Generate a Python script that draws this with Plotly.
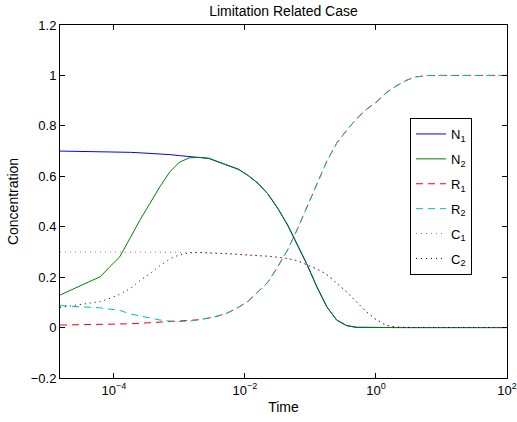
import plotly.graph_objects as go

# Time points (s)
time = [1.5e-5, 3.0e-5, 6.2e-5, 8.7e-5, 1.23e-4, 1.78e-4, 2.51e-4, 3.55e-4, 5.0e-4, 7.1e-4,
        1.0e-3, 1.41e-3, 2.0e-3, 2.82e-3, 4.0e-3, 5.6e-3, 7.9e-3, 0.0112, 0.0158, 0.0224,
        0.0316, 0.0447, 0.063, 0.089, 0.126, 0.178, 0.251, 0.355, 0.50, 0.71,
        1.0, 1.41, 2.0, 2.82, 3.98, 6.3, 10.0, 31.6, 100.0]

N1 = [0.700, 0.699, 0.698, 0.697, 0.696, 0.695, 0.693, 0.691, 0.689, 0.686,
      0.682, 0.678, 0.675, 0.671, 0.656, 0.643, 0.628, 0.603, 0.572, 0.530,
      0.473, 0.407, 0.329, 0.249, 0.160, 0.082, 0.030, 0.008, 0.001, 0.0,
      0.0, 0.0, 0.0, 0.0, 0.0, 0.0, 0.0, 0.0, 0.0]

N2 = [0.129, 0.166, 0.202, 0.242, 0.281, 0.357, 0.428, 0.493, 0.558, 0.617,
      0.656, 0.673, 0.675, 0.671, 0.656, 0.643, 0.628, 0.603, 0.572, 0.530,
      0.473, 0.407, 0.329, 0.249, 0.160, 0.082, 0.030, 0.008, 0.001, 0.0,
      0.0, 0.0, 0.0, 0.0, 0.0, 0.0, 0.0, 0.0, 0.0]

R1 = [0.010, 0.011, 0.012, 0.013, 0.014, 0.015, 0.017, 0.019, 0.021, 0.023,
      0.025, 0.026, 0.031, 0.038, 0.047, 0.060, 0.080, 0.105, 0.141, 0.180,
      0.241, 0.308, 0.390, 0.480, 0.571, 0.660, 0.731, 0.782, 0.827, 0.865,
      0.893, 0.930, 0.957, 0.979, 0.994, 0.9995, 1.0, 1.0, 1.0]

R2 = [0.087, 0.083, 0.078, 0.073, 0.068, 0.054, 0.046, 0.038, 0.030, 0.026,
      0.024, 0.025, 0.031, 0.038, 0.047, 0.060, 0.080, 0.105, 0.141, 0.180,
      0.241, 0.308, 0.390, 0.480, 0.571, 0.660, 0.731, 0.782, 0.827, 0.865,
      0.893, 0.930, 0.957, 0.979, 0.994, 0.9995, 1.0, 1.0, 1.0]

C1 = [0.300, 0.300, 0.300, 0.300, 0.300, 0.300, 0.300, 0.300, 0.300, 0.300,
      0.299, 0.299, 0.298, 0.296, 0.295, 0.293, 0.290, 0.288, 0.286, 0.283,
      0.279, 0.274, 0.265, 0.250, 0.232, 0.210, 0.178, 0.142, 0.103, 0.063,
      0.032, 0.009, 0.002, 0.0, 0.0, 0.0, 0.0, 0.0, 0.0]

C2 = [0.080, 0.090, 0.103, 0.116, 0.132, 0.155, 0.187, 0.214, 0.245, 0.272,
      0.289, 0.296, 0.298, 0.296, 0.295, 0.293, 0.290, 0.288, 0.286, 0.283,
      0.279, 0.274, 0.265, 0.250, 0.232, 0.210, 0.178, 0.142, 0.103, 0.063,
      0.032, 0.009, 0.002, 0.0, 0.0, 0.0, 0.0, 0.0, 0.0]

x_tickvals = [1e-4, 1e-2, 1, 100]
x_ticktext = ["10<sup>−4</sup>", "10<sup>−2</sup>", "10<sup>0</sup>", "10<sup>2</sup>"]

series = [
    ("N<sub>1</sub>", N1, "#0000ff", "solid"),
    ("N<sub>2</sub>", N2, "#008000", "solid"),
    ("R<sub>1</sub>", R1, "#ff0000", "7px,5px"),
    ("R<sub>2</sub>", R2, "#00bfbf", "7px,5px"),
    ("C<sub>1</sub>", C1, "#dd44dd", "1px,4px"),
    ("C<sub>2</sub>", C2, "#000000", "1px,4px"),
]

FONT = "Liberation Sans, Arial, sans-serif"

fig = go.Figure()
for i, (name, y, color, dash) in enumerate(series):
    fig.add_trace(go.Scatter(x=time, y=y, mode="lines", name=name,
                             legendgroup=f"g{i}",
                             line=dict(color=color, width=1, dash=dash)))

axis_common = dict(showgrid=False, zeroline=False, showline=True, linecolor="black",
                   linewidth=1, mirror="ticks", ticks="inside", ticklen=5,
                   tickcolor="black", tickfont=dict(size=13, color="black"))

fig.update_xaxes(type="log", range=[-4.824, 2], tickvals=x_tickvals, ticktext=x_ticktext,
                 title=dict(text="Time", font=dict(size=14, color="black"), standoff=5),
                 **axis_common)
fig.update_yaxes(range=[-0.2, 1.2], dtick=0.2, tickformat="~g",
                 title=dict(text="Concentration", font=dict(size=14, color="black"), standoff=8),
                 **axis_common)

fig.update_layout(
    width=517, height=422,
    margin=dict(l=60, r=10, t=25, b=44, autoexpand=False),
    paper_bgcolor="white", plot_bgcolor="white",
    font=dict(family=FONT, size=13, color="black"),
    title=dict(text="Limitation Related Case", x=(60 + 447 / 2) / 517, xanchor="center",
               y=1 - 11 / 422, yanchor="middle", font=dict(size=14, color="black")),
    legend=dict(x=0.783, y=0.7365, xanchor="left", yanchor="top",
                bgcolor="white", bordercolor="black", borderwidth=1,
                tracegroupgap=5, font=dict(size=13, color="black")),
    showlegend=True,
)

fig.write_html("out.html", config={"displayModeBar": False},
               post_script="document.body.style.margin='0';document.body.style.padding='0';")
